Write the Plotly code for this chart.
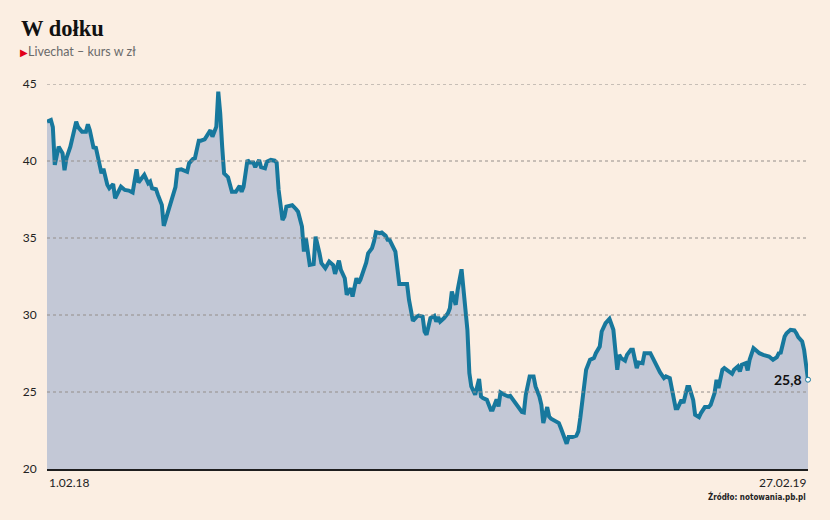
import pandas as pd
import plotly.graph_objects as go

TITLE = "W dołku"
SUBTITLE = "Livechat – kurs w zł"
SOURCE = "Źródło: notowania.pb.pl"
START_DATE = "2018-02-01"
X_TICK_LABELS = ["1.02.18", "27.02.19"]
Y_TICKS = [20, 25, 30, 35, 40, 45]

# days since 1.02.18
DAYS = [
    0, 2, 3, 4, 6, 8, 9, 10, 12, 14,
    15, 16, 18, 20, 21, 22, 24, 25, 26, 28,
    29, 31, 32, 34, 35, 37, 38, 40, 42, 44,
    46, 47, 49, 50, 52, 53, 54, 56, 57, 59,
    60, 62, 64, 65, 66, 67, 69, 72, 73, 75,
    76, 78, 79, 81, 83, 84, 85, 87, 88, 89,
    90, 91, 93, 94, 95, 97, 99, 100, 101, 103,
    104, 106, 107, 109, 110, 112, 113, 115, 117, 118,
    119, 121, 122, 123, 125, 126, 128, 129, 131, 132,
    133, 134, 135, 137, 138, 140, 141, 143, 144, 145,
    147, 148, 150, 151, 153, 154, 156, 157, 159, 160,
    161, 163, 164, 165, 167, 168, 169, 171, 172, 174,
    175, 176, 178, 179, 181, 183, 185, 186, 188, 190,
    191, 193, 194, 195, 197, 199, 200, 201, 202, 204,
    206, 207, 208, 210, 211, 213, 214, 215, 216, 217,
    218, 220, 222, 223, 224, 226, 228, 229, 231, 232,
    233, 235, 237, 238, 240, 242, 244, 245, 246, 248,
    250, 251, 253, 254, 255, 257, 258, 259, 261, 263,
    264, 266, 267, 268, 270, 272, 273, 274, 276, 277,
    279, 281, 282, 284, 285, 287, 289, 291, 292, 293,
    294, 295, 297, 298, 300, 301, 303, 304, 306, 307,
    310, 312, 313, 315, 317, 318, 320, 322, 323, 324,
    326, 327, 329, 330, 332, 333, 335, 336, 338, 340,
    341, 343, 344, 345, 347, 348, 350, 352, 353, 355,
    356, 357, 359, 360, 361, 363, 365, 366, 368, 370,
    371, 373, 375, 376, 377, 379, 380, 382, 384, 385,
    386, 388, 389, 390, 391,
]

PRICE = [
    42.55, 42.66, 42.2, 39.75, 40.93, 40.5, 39.4, 40.18, 40.93, 42.2,
    42.55, 42.2, 41.9, 41.9, 42.38, 42.0, 40.8, 40.93, 40.3, 39.2,
    39.5, 38.45, 38.23, 38.5, 37.58, 38.0, 38.33, 38.12, 38.08, 37.95,
    39.46, 38.6, 38.98, 39.1, 38.55, 38.66, 38.23, 38.17, 37.8, 37.15,
    35.79, 36.6, 37.47, 38.0, 38.3, 39.42, 39.46, 39.3, 39.85, 40.13,
    40.18, 41.32, 41.32, 41.41, 41.8, 42.0, 41.58, 42.23, 44.5, 43.1,
    40.93, 39.2, 38.95, 38.56, 38.0, 38.0, 38.38, 38.0, 38.33, 40.07,
    39.9, 39.9, 39.6, 40.07, 39.6, 39.53, 39.96, 40.07, 40.02, 39.9,
    38.12, 36.17, 36.39, 37.04, 37.08, 37.13, 36.87, 36.71, 35.74, 34.12,
    34.99, 34.23, 33.25, 33.3, 35.09, 34.01, 33.36, 33.04, 33.25, 33.47,
    33.25, 32.67, 33.53, 32.93, 32.39, 31.31, 31.74, 31.2, 32.39, 32.07,
    32.28, 33.04, 33.4, 34.01, 34.34, 34.77, 35.38, 35.31, 35.35, 35.14,
    34.88, 34.88, 34.44, 34.12, 32.02, 32.02, 32.02, 30.98, 29.62, 29.9,
    29.96, 29.9, 28.93, 28.71, 29.8, 29.94, 29.57, 29.86, 29.57, 29.8,
    30.12, 30.44, 31.52, 30.66, 31.63, 32.97, 31.63, 30.33, 29.04, 26.23,
    25.36, 24.82, 25.84, 24.71, 24.6, 24.49, 23.85, 23.85, 24.52, 24.06,
    24.97, 24.82, 24.71, 24.75, 24.38, 24.06, 23.7, 23.67, 24.82, 26.01,
    26.01, 25.36, 24.71, 24.17, 22.98, 24.02, 23.41, 23.26, 23.15, 22.98,
    22.66, 22.01, 21.64, 22.07, 22.07, 22.16, 22.44, 23.31, 25.14, 26.44,
    27.09, 27.2, 27.52, 27.95, 28.93, 29.47, 29.75, 29.04, 27.74, 26.44,
    27.41, 27.2, 27.04, 27.41, 27.74, 27.74, 26.55, 26.92, 26.87, 27.52,
    27.52, 26.98, 26.77, 26.27, 25.9, 26.01, 25.9, 24.71, 23.95, 23.95,
    24.49, 24.28, 25.32, 25.32, 24.49, 23.52, 23.37, 23.63, 24.02, 24.02,
    24.17, 24.93, 25.79, 25.25, 26.44, 26.55, 26.4, 26.18, 26.44, 26.66,
    26.33, 26.77, 26.87, 26.4, 27.09, 27.85, 27.63, 27.52, 27.41, 27.35,
    27.3, 27.09, 27.27, 27.52, 27.56, 28.6, 28.82, 29.04, 29.0, 28.82,
    28.56, 28.28, 27.74, 26.77, 25.8,
]

BG = "#fbeee2"
LINE = "#17789d"
FILL = "#c3c8d6"
SANS = "Lato, 'Open Sans', sans-serif"

dates = pd.Timestamp(START_DATE) + pd.to_timedelta(DAYS, unit="D")

fig = go.Figure()
fig.add_trace(go.Scatter(
    x=dates, y=PRICE, mode="lines",
    line=dict(color=LINE, width=4),
    fill="tozeroy", fillcolor=FILL,
    hoverinfo="skip", showlegend=False,
))
fig.add_trace(go.Scatter(
    x=[dates[-1]], y=[PRICE[-1]], mode="markers",
    marker=dict(size=5, color="white", line=dict(color=LINE, width=1)),
    hoverinfo="skip", showlegend=False, cliponaxis=False,
))

for v in Y_TICKS[1:]:
    fig.add_shape(type="line", xref="paper", x0=0, x1=1, yref="y", y0=v, y1=v,
                  line=dict(color="#948e8a", width=1, dash="dot"), layer="above")

fig.update_layout(
    width=830, height=520,
    paper_bgcolor=BG, plot_bgcolor=BG,
    margin=dict(l=47, r=22, t=84, b=51),
    xaxis=dict(
        range=[dates[0], dates[-1]], showgrid=False, zeroline=False,
        showticklabels=False, showline=True, linecolor="#1e1e1e", linewidth=1.5,
        ticks="",
    ),
    yaxis=dict(
        range=[20, 45], tickvals=Y_TICKS, showgrid=False, zeroline=False,
        ticks="outside", ticklen=7, tickcolor="rgba(0,0,0,0)",
        tickfont=dict(family=SANS, size=12, color="#222222"),
        showline=False,
    ),
    font=dict(family=SANS),
    annotations=[
        dict(text=f"<b>{TITLE}</b>", xref="paper", yref="paper", x=-47/761, y=1,
             xanchor="left", yanchor="bottom", yshift=41, xshift=19, showarrow=False,
             font=dict(family="'Liberation Serif', 'DejaVu Serif', serif", size=22.5, color="#111111")),
        dict(text=f"<span style='color:#e2001a;font-size:10px'>▶</span>{SUBTITLE}", xref="paper", yref="paper",
             x=-47/761, y=1, xanchor="left", yanchor="bottom", yshift=23, xshift=18, showarrow=False,
             font=dict(family=SANS, size=12.5, color="#6a6a6a")),
        dict(text=X_TICK_LABELS[0], xref="paper", yref="paper", x=0, y=0,
             xanchor="left", yanchor="top", yshift=-4, showarrow=False,
             font=dict(family=SANS, size=12, color="#222222")),
        dict(text=X_TICK_LABELS[1], xref="paper", yref="paper", x=1, y=0,
             xanchor="right", yanchor="top", yshift=-4, showarrow=False,
             font=dict(family=SANS, size=12, color="#222222")),
        dict(text=f"<b>{SOURCE}</b>", xref="paper", yref="paper", x=1, y=0,
             xanchor="right", yanchor="top", yshift=-20, showarrow=False,
             font=dict(family="'Liberation Sans Narrow', 'DejaVu Sans Condensed', Roboto, sans-serif",
                       size=8, color="#222222")),
        dict(text=f"<b>{PRICE[-1]:.1f}</b>".replace(".", ","), x=dates[-1], y=PRICE[-1],
             xref="x", yref="y", xanchor="right", yanchor="middle", xshift=-4,
             showarrow=False, font=dict(family=SANS, size=14, color="#111111")),
    ],
)

fig.write_html(
    "out.html",
    config={"displayModeBar": False},
    post_script="document.body.style.margin='0';document.body.style.padding='0';"
                "document.body.style.background='" + BG + "';",
)
